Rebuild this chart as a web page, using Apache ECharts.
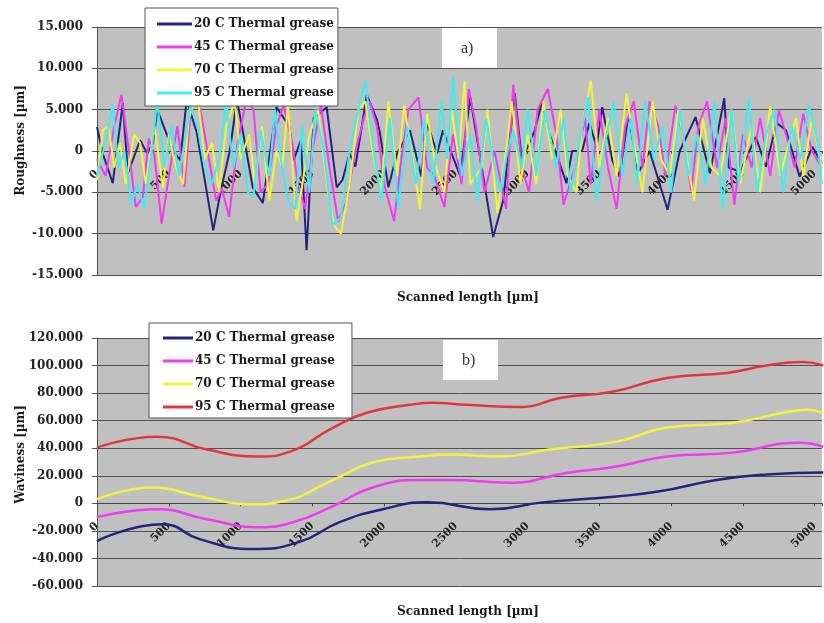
<!DOCTYPE html>
<html><head><meta charset="utf-8">
<script src="https://cdn.jsdelivr.net/npm/echarts@6/dist/echarts.min.js"></script>
<style>html,body{margin:0;padding:0;background:#fff;}#a{position:absolute;left:0;top:0;width:824px;height:311px;}#b{position:absolute;left:0;top:311px;width:824px;height:312px;}</style>
</head><body><div id="a"></div><div id="b"></div>
<script>
const seriesNames = ['20 C Thermal grease','45 C Thermal grease','70 C Thermal grease','95 C Thermal grease'];
const roughColors = ['#27237a','#f03cf0','#f2f240','#40ecf0'];
const wavyColors = ['#27237a','#f03cf0','#f2f240','#e0383a'];

// Roughness [x in µm, y]
const rough20 = [[0,2.9],[40,-0.3],[110,-3.9],[145,1],[180,5.8],[215,-2.7],[300,1.3],[350,-0.3],[390,1.0],[420,5],[530,0],[580,-1.1],[625,6.2],[695,2.2],[810,-9.6],[860,-5],[925,0],[975,6.2],[1020,2],[1085,-4.4],[1155,-6.3],[1250,5.3],[1340,3],[1370,-1.1],[1420,1.3],[1460,-12],[1510,4],[1600,5.3],[1670,-4.4],[1710,-3.5],[1760,-0.3],[1800,-1.9],[1880,6.8],[1950,3.8],[1970,2.3],[2030,-4.4],[2090,-0.3],[2180,2.5],[2260,-3.1],[2300,3.4],[2370,-0.3],[2410,2.5],[2470,-0.3],[2530,-3],[2600,6.5],[2690,-3],[2760,-10.4],[2830,-6],[2910,7.0],[2960,-1.1],[3050,2.5],[3100,5.9],[3150,2.2],[3270,-3.9],[3310,0],[3380,0],[3430,3.4],[3480,0.5],[3520,5.3],[3590,-1.1],[3640,-3.1],[3700,4.1],[3710,3.8],[3770,-2.7],[3850,0],[3975,-7.1],[4060,0],[4170,4.1],[4270,-2.7],[4370,6.4],[4400,-2],[4480,-2.5],[4590,1.7],[4660,-1.9],[4735,3.4],[4800,2.5],[4895,-3.1],[4985,0.5],[5050,-1.5]];
const rough45 = [[0,-1],[60,-3],[120,3],[170,6.8],[230,-1],[270,-6.8],[320,-5.5],[360,1.5],[400,-0.5],[450,-8.8],[510,-2],[560,3],[610,-4.3],[660,6.5],[720,5],[770,0],[830,-6],[870,-4.5],[920,-8],[980,1],[1040,6.2],[1090,5],[1140,-5],[1190,-4],[1250,3],[1300,5.5],[1360,1],[1400,-4],[1450,-7],[1500,0],[1560,5.5],[1620,-2],[1680,-8.5],[1740,-6],[1800,0],[1860,4],[1900,6],[1950,3],[2000,-4],[2070,-8.5],[2120,-1],[2170,5],[2240,6.5],[2300,-2],[2350,-3],[2420,-6.8],[2480,2],[2540,-4],[2590,7.5],[2640,3],[2700,-5],[2770,0],[2850,-7],[2900,8],[2960,-2],[3010,-5],[3070,5],[3140,7.5],[3200,2],[3250,-6.5],[3330,-2],[3400,4],[3440,-4],[3500,5],[3560,-2],[3620,-7],[3680,3],[3740,6],[3800,-2],[3850,6],[3910,3],[3960,-3],[4030,5.5],[4080,2],[4140,-4.8],[4190,3],[4250,6],[4320,-2],[4380,4],[4440,-6.5],[4500,2],[4560,-2],[4620,4],[4690,-3],[4750,5],[4800,2],[4860,-2],[4920,4.5],[4980,0],[5050,-2]];
const rough70 = [[0,-3.5],[40,2.5],[80,3],[120,-2],[160,1],[200,-4],[260,2],[300,1],[340,-4],[400,3],[460,-4.5],[500,2],[550,-2],[600,-4],[640,4],[700,7],[750,-1],[800,1],[850,-5],[900,3],[960,6],[1000,-1],[1060,2],[1100,-4],[1150,3],[1200,-6],[1250,0],[1290,-2],[1330,5.5],[1390,-8.5],[1440,-3],[1480,2],[1540,5],[1610,-5],[1650,-9],[1700,-10],[1760,-4],[1820,5],[1870,6],[1920,0],[1980,-5],[2030,6],[2090,-3],[2140,5.5],[2200,-1],[2250,-7],[2300,4.5],[2360,-2],[2420,-5],[2470,5],[2520,-1],[2560,8.5],[2600,-4],[2680,-2],[2720,5],[2790,-7.5],[2850,0],[2890,6],[2950,-4],[3000,2],[3060,-4],[3110,6],[3170,-1],[3230,5],[3280,-3],[3340,-5],[3380,3],[3440,8.5],[3500,-2],[3560,4],[3620,-3],[3690,7],[3730,2],[3800,-5],[3870,6],[3930,-1],[3990,-3],[4050,5],[4100,0],[4160,-6],[4220,4],[4280,-2],[4340,-3],[4420,5],[4480,-4],[4560,3],[4620,-5],[4690,5.5],[4760,-3],[4820,1],[4870,4],[4920,-3],[4980,4],[5050,-2]];
const rough95 = [[0,-3],[30,-1],[70,2],[110,5.5],[150,-2],[190,0],[240,-6.5],[280,-4],[330,-7],[380,0],[420,6],[470,-2],[520,3],[570,-3],[620,2],[650,5.5],[700,3],[750,-2],[800,-4],[850,-1],[900,6],[950,-2],[1000,2],[1050,-5],[1090,-5.5],[1140,2.5],[1200,-3],[1240,5],[1280,-1],[1330,-6],[1380,-7],[1430,3],[1480,-5],[1520,5],[1580,0],[1640,-9],[1700,-8],[1760,0],[1820,5],[1870,8.5],[1920,1],[1980,-6],[2040,4],[2100,-7],[2160,3],[2220,-4],[2280,4],[2340,-4],[2400,6],[2440,-1],[2480,9],[2540,-3],[2600,2],[2650,-6],[2710,4],[2760,-1],[2810,-5],[2860,0],[2900,2.5],[2960,-2],[3000,5],[3060,-3],[3120,5],[3200,-2],[3250,4],[3300,-5],[3360,1],[3420,6.5],[3480,-6],[3540,1],[3600,6],[3660,-3],[3720,4],[3760,-4],[3820,6],[3880,-1],[3940,3],[4000,-5],[4060,5],[4120,-3],[4180,2],[4240,-4],[4300,6],[4360,-7],[4420,5],[4470,-4],[4540,6.5],[4600,-5],[4660,2],[4720,5],[4780,-5],[4840,3],[4900,-1],[4960,5.5],[5020,1],[5050,-4]];

// Waviness [x in µm, y]
const wavy20 = [[0,-27.4],[460,-15.2],[715,-26],[1085,-33.2],[1410,-28],[1690,-13.7],[1990,-4.3],[2300,0.7],[2735,-4.3],[3105,0.7],[3620,5],[3920,8.7],[4315,17],[4665,21],[5060,22.4]];
const wavy45 = [[0,-10],[420,-4.3],[765,-11.6],[1135,-17.3],[1365,-13.7],[1645,-2],[1920,11.5],[2250,17],[2460,17],[2875,15],[3270,22],[3620,26.7],[3970,34],[4430,36.8],[4895,44],[5060,41]];
const wavy70 = [[0,3],[390,11.5],[715,5],[1085,-0.7],[1295,1.5],[1645,17],[1920,29.6],[2250,34],[2460,35.4],[2805,34],[3150,39],[3620,44.8],[3970,55],[4430,58.5],[4780,65.7],[4945,68],[5060,65.7]];
const wavy95 = [[0,40.4],[420,48.4],[765,39],[1135,34],[1345,37.5],[1645,55],[1880,65.7],[2180,71.5],[2340,73],[2575,71.5],[2965,70],[3225,76.5],[3590,81],[3970,91],[4385,94.6],[4665,100],[4915,102.5],[5060,100]];

const roughData = [rough20, rough45, rough70, rough95];
const wavyData = [wavy20, wavy45, wavy70, wavy95];

const serif = '"DejaVu Serif", "Liberation Serif", serif';
const tserif = '"Liberation Serif", serif';
function fmtY(v){ return v === 0 ? '0' : v.toFixed(3); }

function build(opts){
  return {
    animation: false,
    grid: {left: 97, right: 2, top: 27, height: 248, show: true, backgroundColor: '#c0c0c0', borderWidth: 0},
    legend: {
      orient: 'vertical', left: opts.legLeft, top: opts.legTop,
      backgroundColor: '#ffffff', borderColor: '#555', borderWidth: 1,
      padding: opts.legPad, itemGap: 9, itemWidth: opts.iconW, itemHeight: 3, icon: 'rect',
      textStyle: {fontFamily: serif, fontWeight: 'bold', fontSize: 12, color: '#1a1a1a', lineHeight: 14, padding: [0,0,0,-3]},
      data: seriesNames
    },
    xAxis: {
      type: 'value', min: 0, max: 5050, interval: 500, offset: opts.xoff,
      axisLine: {show: true, onZero: false, lineStyle: {color: '#444', width: 1}},
      axisTick: {show: true, length: 3, lineStyle: {color: '#444'}},
      splitLine: {show: false},
      axisLabel: {rotate: 45, margin: 21, fontFamily: serif, fontWeight: 'bold', fontSize: 11, color: '#222',
        formatter: function(v){ return v % 500 === 0 ? String(v) : ''; }}
    },
    yAxis: {
      type: 'value', min: opts.ymin, max: opts.ymax, interval: opts.yint,
      axisLine: {show: true, onZero: false, lineStyle: {color: '#555'}},
      axisTick: {show: true, length: 5, inside: false, lineStyle: {color: '#555'}},
      splitLine: {show: true, lineStyle: {color: '#505050', width: 1}},
      axisLabel: {margin: 14, fontFamily: serif, fontWeight: 'bold', fontSize: 12, color: '#222', formatter: fmtY}
    },
    series: opts.data.map(function(d, i){
      return {name: seriesNames[i], type: 'line', data: d, showSymbol: false, symbol: 'none',
        smooth: opts.smooth, lineStyle: {color: opts.colors[i], width: opts.lw}, itemStyle: {color: opts.colors[i]}};
    }),
    graphic: [
      {type: 'rect', left: opts.boxL, top: opts.boxT, shape: {width: 55, height: 40}, style: {fill: '#fff'}, z: 100},
      {type: 'text', left: opts.boxL + 19, top: opts.boxT + 13, style: {text: opts.tag, font: '16px ' + tserif, fill: '#333'}, z: 101},
      {type: 'text', left: 397, top: opts.xty, style: {text: 'Scanned length [µm]', font: 'bold 12px ' + serif, fill: '#1a1a1a'}},
      {type: 'text', left: 15, top: opts.yty, rotation: Math.PI/2, style: {text: opts.ytitle, font: 'bold 12px ' + serif, fill: '#1a1a1a'}}
    ]
  };
}

const ca = echarts.init(document.getElementById('a'), null, {renderer: 'canvas'});
ca.setOption(build({data: roughData, colors: roughColors, smooth: false, lw: 2, ymin: -15, ymax: 15, yint: 5, xoff: -124,
  legLeft: 145, legTop: 8, legPad: [9, 4, 6, 12], iconW: 35, boxL: 442, boxT: 28, tag: 'a)', ytitle: 'Roughness [µm]', yty: 85, xty: 292}));

const cb = echarts.init(document.getElementById('b'), null, {renderer: 'canvas'});
cb.setOption(build({data: wavyData, colors: wavyColors, smooth: true, lw: 2.5, ymin: -60, ymax: 120, yint: 20, xoff: -82.7,
  legLeft: 149, legTop: 12, legPad: [8, 17, 4, 14], iconW: 30, boxL: 443, boxT: 29, tag: 'b)', ytitle: 'Waviness [µm]', yty: 94, xty: 295}));
</script></body></html>
